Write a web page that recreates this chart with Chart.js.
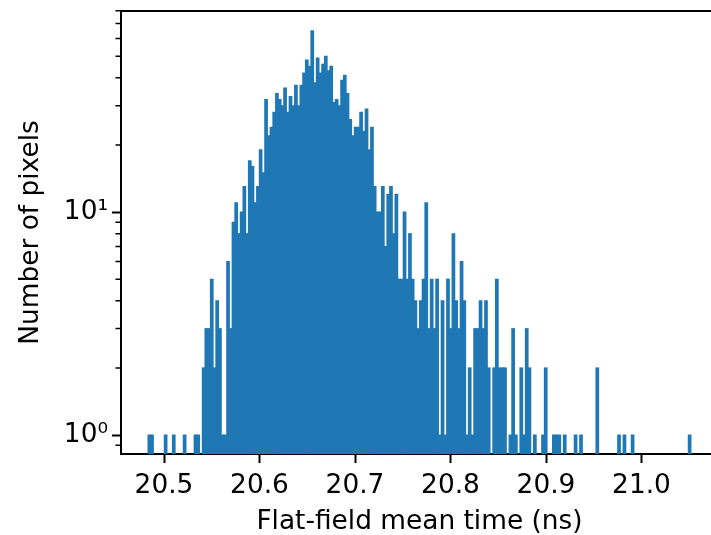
<!DOCTYPE html>
<html><head><meta charset="utf-8">
<script src="https://cdn.jsdelivr.net/npm/chart.js@4.4.1/dist/chart.umd.min.js"></script>
<style>
html,body{margin:0;padding:0;overflow:hidden;background:#fff;width:711px;height:535px}
#wrap{position:absolute;left:0;top:0;width:718px;height:535px}
</style>
</head><body><div id="wrap"><canvas id="c" width="718" height="535"></canvas></div>
<script>
// Histogram bins
const binStart = 20.4832;
const binWidth = 0.002843;
const counts = [
  1,1,0,0,0,0,1,0,0,1, 0,0,0,1,0,0,0,1,1,0,
  2,3,3,5,2,4,3,1,1,6, 3,9,11,8,10,13,8,17,16,11,
  13,19,15,32,22,24,28,34,32,30, 36,28,33,30,37,30,37,42,48,45,
  65,38,49,42,46,50,43,45,31,32, 30,39,41,34,26,22,24,24,28,23,
  29,19,24,13,10,10,13,7,12,13, 8,12,5,5,10,5,8,5,4,3,
  4,5,11,3,5,3,5,1,4,1, 5,3,8,4,3,6,4,1,2,1,
  3,3,4,3,4,2,0,2,5,2, 2,2,0,1,3,1,0,2,1,3,
  2,0,1,0,0,1,2,0,0,1, 1,1,0,1,0,0,0,1,0,1,
  0,0,0,0,0,2,0,0,0,0, 0,0,0,1,0,1,0,0,1,0,
  0,0,0,0,0,0,0,0,0,0, 0,0,0,0,0,0,0,0,0,1
];
const xTickValues = [20.5, 20.6, 20.7, 20.8, 20.9, 21.0];
const yMajorTicks = [1, 10];
const yTickLabels = ['10\u2070', '10\u00B9'];
const yMinorTicks = [0.9, 2, 3, 4, 5, 6, 7, 8, 9, 20, 30, 40, 50, 60, 70, 80];
const xRange = [20.45497, 21.0801];
const yRange = [0.822, 79.7];
const xTitle = 'Flat-field mean time (ns)';
const yTitle = 'Number of pixels';

const points = counts.map((c, i) => ({x: binStart + (i + 0.5) * binWidth, y: c > 0 ? c : null}));

Chart.defaults.font.family = "'DejaVu Sans', sans-serif";
Chart.defaults.font.size = 26.4;
Chart.defaults.color = '#000';

const spinePlugin = {
  id: 'spines',
  afterDraw(chart) {
    const {ctx, chartArea: a, scales: {y}} = chart;
    ctx.save();
    ctx.strokeStyle = '#000';
    ctx.lineWidth = 2;
    ctx.beginPath();
    ctx.moveTo(a.left - 1, a.top); ctx.lineTo(a.right + 1, a.top);
    ctx.moveTo(a.right, a.top); ctx.lineTo(a.right, a.bottom);
    ctx.stroke();
    ctx.lineWidth = 1.5;
    ctx.beginPath();
    for (const v of yMinorTicks) {
      const py = y.getPixelForValue(v);
      ctx.moveTo(a.left - 5.5, py); ctx.lineTo(a.left, py);
    }
    ctx.stroke();
    ctx.restore();
  }
};

new Chart(document.getElementById('c'), {
  type: 'bar',
  data: {
    datasets: [{
      data: points,
      backgroundColor: '#1f77b4',
      borderWidth: 0,
      inflateAmount: 0.5,
      barPercentage: 1,
      categoryPercentage: 1,
      grouped: false
    }]
  },
  options: {
    responsive: false,
    devicePixelRatio: 1,
    animation: false,
    layout: {padding: {top: 11, left: 0, right: 0, bottom: 0}},
    plugins: {legend: {display: false}, tooltip: {enabled: false}},
    scales: {
      x: {
        type: 'linear',
        bounds: 'data',
        offset: false,
        min: xRange[0], max: xRange[1],
        z: 1,
        grid: {offset: false, drawOnChartArea: false, drawTicks: true, tickLength: 9, tickWidth: 2, tickColor: '#000'},
        border: {display: true, color: '#000', width: 2},
        ticks: {padding: 7, maxRotation: 0, autoSkip: false, callback: v => Number(v).toFixed(1)},
        title: {display: true, text: xTitle, padding: {top: 0, bottom: -3}},
        afterBuildTicks: s => { s.ticks = xTickValues.map(v => ({value: v})); },
        afterFit: s => { s.height = 81; s.paddingLeft = 0; s.paddingRight = 0; }
      },
      y: {
        type: 'logarithmic',
        bounds: 'data',
        min: yRange[0], max: yRange[1],
        z: 1,
        grid: {drawOnChartArea: false, drawTicks: true, tickLength: 9, tickWidth: 2, tickColor: '#000'},
        border: {display: true, color: '#000', width: 2},
        ticks: {padding: 4, autoSkip: false, callback: (v) => { const k = yMajorTicks.indexOf(v); return k >= 0 ? yTickLabels[k] : null; }},
        title: {display: true, text: yTitle, padding: {top: 15, bottom: 0}},
        afterBuildTicks: s => { s.ticks = yMajorTicks.map(v => ({value: v, major: true})); },
        afterFit: s => { s.width = 121; s.paddingTop = 0; s.paddingBottom = 0; }
      }
    }
  },
  plugins: [spinePlugin]
});
</script>
</body></html>
